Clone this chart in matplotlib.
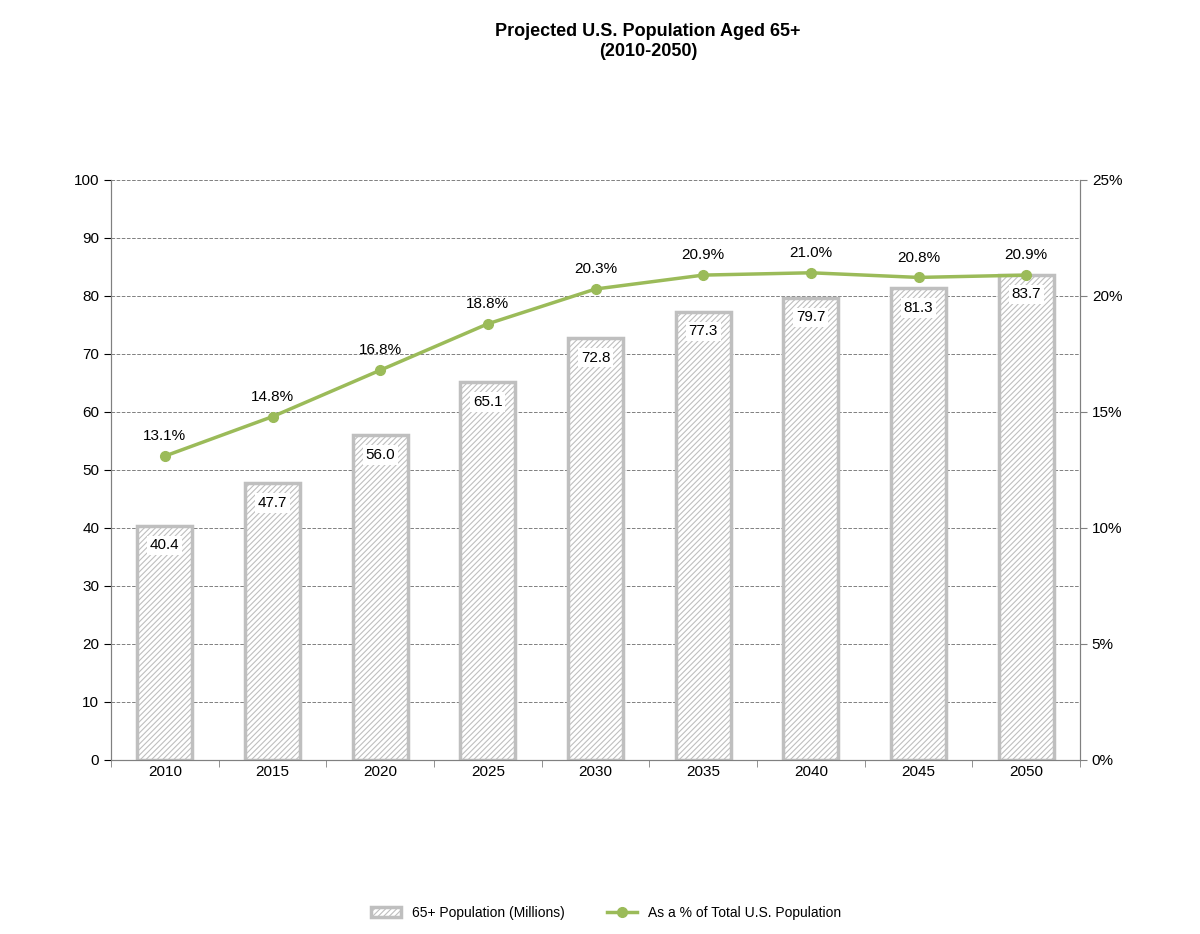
import matplotlib
matplotlib.use("Agg")
import matplotlib.pyplot as plt
import numpy as np

plt.rcParams['font.family'] = ['Liberation Sans', 'DejaVu Sans']
plt.rcParams['hatch.color'] = '#c0c0c0'
plt.rcParams['hatch.linewidth'] = 0.8

years = ['2010','2015','2020','2025','2030','2035','2040','2045','2050']
pop = [40.4, 47.7, 56.0, 65.1, 72.8, 77.3, 79.7, 81.3, 83.7]
pct = [13.1, 14.8, 16.8, 18.8, 20.3, 20.9, 21.0, 20.8, 20.9]

fig = plt.figure(figsize=(12, 9.34), dpi=100)
ax = fig.add_axes([0.0925, 0.1863, 0.8075, 0.621])
x = np.arange(len(years))
bars = ax.bar(x, pop, width=0.51, facecolor='white', edgecolor='#bfbfbf',
              linewidth=2.5, hatch='//////', label='65+ Population (Millions)', zorder=2)
for xi, v in zip(x, pop):
    ax.text(xi, v - 2.2, f'{v:.1f}', ha='center', va='top', fontsize=11,
            bbox=dict(facecolor='white', edgecolor='none', pad=2), zorder=4)
ax.set_xlim(-0.5, len(years) - 0.5)
ax.set_ylim(0, 100)
ax.set_yticks(range(0, 101, 10))
ax.set_xticks(x)
ax.set_xticklabels(years)
ax.tick_params(labelsize=11, direction='out', length=5)
ax.yaxis.grid(True, linestyle='--', color='#808080', linewidth=0.7, zorder=0)
ax.set_axisbelow(True)
for s in ax.spines.values():
    s.set_color('#808080')
ax.spines['top'].set_visible(False)
ax.set_xticks(np.arange(-0.5, len(years)), minor=True)
ax.tick_params(axis='x', which='major', length=0)
ax.tick_params(axis='x', which='minor', length=5, color='#808080')

ax2 = ax.twinx()
line, = ax2.plot(x, pct, color='#9bbb59', linewidth=2.5, marker='o', markersize=7,
                 label='As a % of Total U.S. Population', zorder=5)
for xi, v in zip(x, pct):
    ax2.text(xi, v + 0.55, f'{v:.1f}%', ha='center', va='bottom', fontsize=11)
ax2.set_ylim(0, 25)
ax2.set_yticks(range(0, 26, 5))
ax2.set_yticklabels([f'{t}%' for t in range(0, 26, 5)])
ax2.tick_params(labelsize=11, direction='out', length=5, color='#808080')
for s in ax2.spines.values():
    s.set_color('#808080')
ax2.spines['top'].set_visible(False)

fig.text(0.54, 0.975, 'Projected U.S. Population Aged 65+\n(2010-2050)', ha='center',
         va='top', fontsize=13, fontweight='bold')
fig.legend([bars, line], ['65+ Population (Millions)', 'As a % of Total U.S. Population'],
           loc='center', bbox_to_anchor=(0.505, 0.023), ncol=2, frameon=False,
           fontsize=10, handlelength=2.2, columnspacing=3)
fig.savefig('out.png', dpi=100)
